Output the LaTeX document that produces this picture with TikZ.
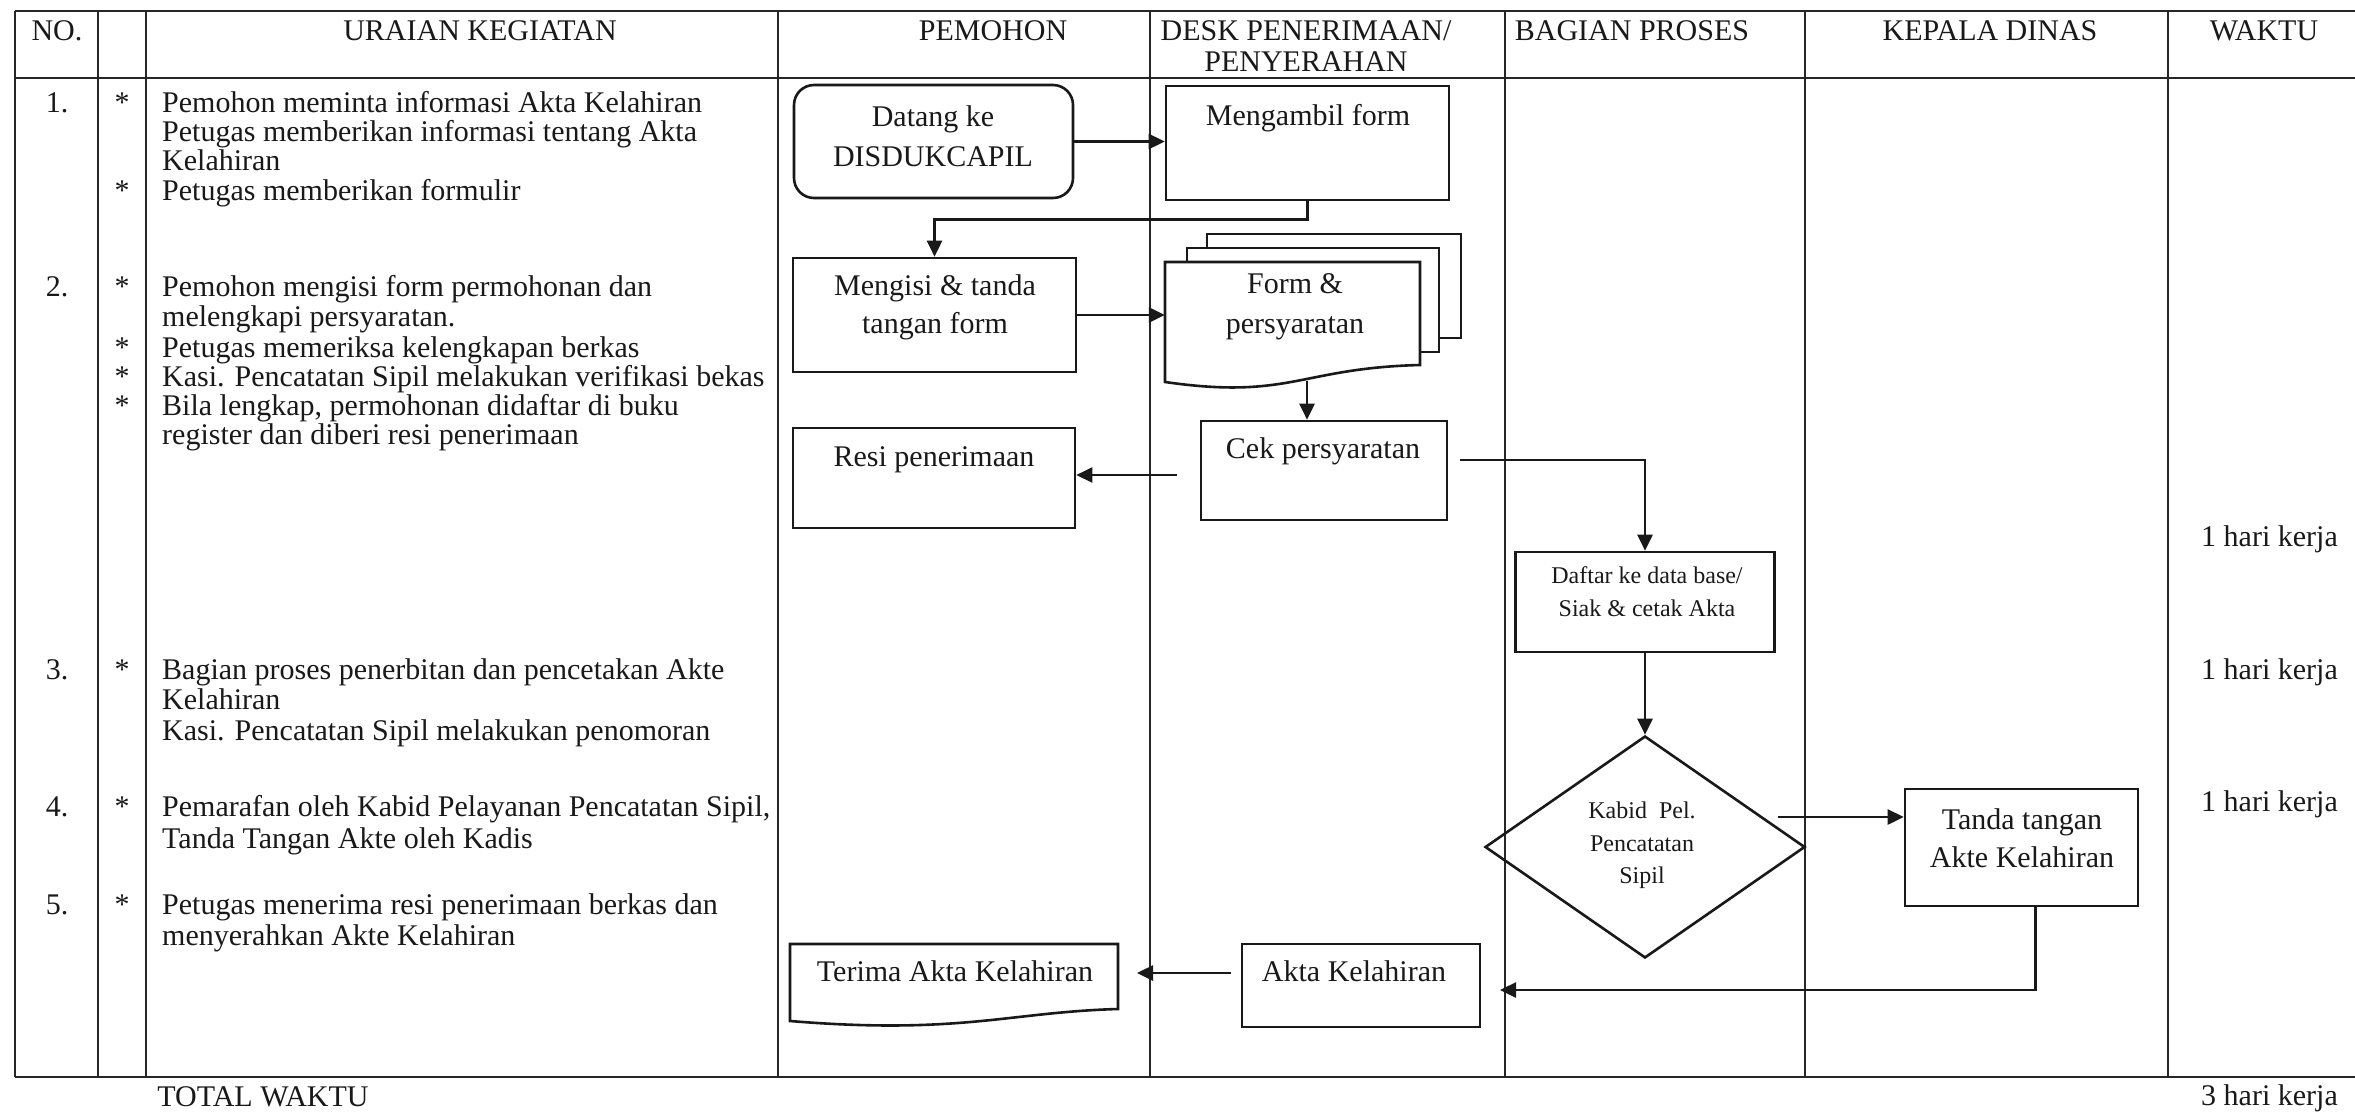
\documentclass[tikz,border=0pt]{standalone}
\usepackage{fontspec}
\setmainfont{Liberation Serif}
\usetikzlibrary{shapes.geometric,arrows.meta,calc}

\newcommand\fsz[1]{\fontsize{#1pt}{#1pt}\selectfont}

\begin{document}
\begin{tikzpicture}[x=1pt,y=-1pt,
  rule/.style={line width=2.2pt, draw=black!85},
  colline/.style={line width=1.6pt, draw=black!85},
  boxed/.style={draw=black!90, line width=2.6pt, rectangle, inner sep=0pt},
  shapeline/.style={draw=black!90, line width=2.6pt, fill=white},
  lbl/.style={font=\fsz{30}, inner sep=0pt, anchor=base, text=black!90},
  lblL/.style={lbl, anchor=base west},
  small/.style={lbl, font=\fsz{24}},
  flow/.style={line width=2.6pt, draw=black!90, -{Triangle[length=16pt,width=15pt]}},
]
% page
\fill[white] (0,0) rectangle (2355,1116);
\useasboundingbox (0,0) rectangle (2355,1116);

% table frame
\foreach \x in {15,98,146,778,1150,1505,1805,2168}
  \draw[colline] (\x,11) -- (\x,1077);
\foreach \y in {11,78,1077}
  \draw[rule] (15,\y) -- (2355,\y);

% column headings
\node[lbl] (hNo)  at (57,41)   {NO.};
\node[lbl] (hUr)  at (480,41)  {URAIAN KEGIATAN};
\node[lbl] (hPm)  at (993,41)  {PEMOHON};
\node[lbl] (hDk1) at (1306,41) {DESK PENERIMAAN/};
\node[lbl] (hDk2) at (1306,71) {PENYERAHAN};
\node[lbl] (hBg)  at (1632,41) {BAGIAN PROSES};
\node[lbl] (hKd)  at (1990,41) {KEPALA DINAS};
\node[lbl] (hWk)  at (2264,41) {WAKTU};

% step numbers
\node[lbl] (n1) at (57,112) {1.};
\node[lbl] (n2) at (57,296) {2.};
\node[lbl] (n3) at (57,679) {3.};
\node[lbl] (n4) at (57,816) {4.};
\node[lbl] (n5) at (57,914) {5.};

% bullets
\foreach \y/\k in {112/a,200/b,296/c,357/d,386/e,415/f,679/g,816/h,914/i}
  \node[lbl] (st\k) at (122,\y) {*};

% activity descriptions
\node[lblL] (r1a) at (162,112) {Pemohon meminta informasi Akta Kelahiran};
\node[lblL] (r1b) at (162,141) {Petugas memberikan informasi tentang Akta};
\node[lblL] (r1c) at (162,170) {Kelahiran};
\node[lblL] (r1d) at (162,200) {Petugas memberikan formulir};
\node[lblL] (r2a) at (162,296) {Pemohon mengisi form permohonan dan};
\node[lblL] (r2b) at (162,326) {melengkapi persyaratan.};
\node[lblL] (r2c) at (162,357) {Petugas memeriksa kelengkapan berkas};
\node[lblL] (r2d) at (162,386) {Kasi. Pencatatan Sipil melakukan verifikasi bekas};
\node[lblL] (r2e) at (162,415) {Bila lengkap, permohonan didaftar di buku};
\node[lblL] (r2f) at (162,444) {register dan diberi resi penerimaan};
\node[lblL] (r3a) at (162,679) {Bagian proses penerbitan dan pencetakan Akte};
\node[lblL] (r3b) at (162,709) {Kelahiran};
\node[lblL] (r3c) at (162,740) {Kasi. Pencatatan Sipil melakukan penomoran};
\node[lblL] (r4a) at (162,816) {Pemarafan oleh Kabid Pelayanan Pencatatan Sipil,};
\node[lblL] (r4b) at (162,848) {Tanda Tangan Akte oleh Kadis};
\node[lblL] (r5a) at (162,914) {Petugas menerima resi penerimaan berkas dan};
\node[lblL] (r5b) at (162,945) {menyerahkan Akte Kelahiran};

% durations
\node[lblL] (w1) at (2201,546)  {1 hari kerja};
\node[lblL] (w2) at (2201,679)  {1 hari kerja};
\node[lblL] (w3) at (2201,811)  {1 hari kerja};
\node[lblL] (wt) at (2201,1105) {3 hari kerja};
\node[lbl]  (tot) at (263,1106) {TOTAL WAKTU};

% ---- flow shapes ----
\node[boxed, rounded corners=20pt, minimum width=279pt, minimum height=113pt] (datang) at (933.5,141.5) {};
\node[lbl] (datangA) at (933,126) {Datang ke};
\node[lbl] (datangB) at (933,166) {DISDUKCAPIL};

\node[boxed, minimum width=283pt, minimum height=114pt] (ambil) at (1307.5,143) {};
\node[lbl] (ambilT) at (1308,125) {Mengambil form};

\node[boxed, minimum width=283pt, minimum height=114pt] (isi) at (934.5,315) {};
\node[lbl] (isiA) at (935,295) {Mengisi \& tanda};
\node[lbl] (isiB) at (935,333) {tangan form};

% stacked documents
\draw[shapeline] (1207,234) rectangle (1461,338);
\draw[shapeline] (1187,248) rectangle (1439,352);
\draw[shapeline] (1165,262) -- (1420,262) -- (1420,365)
  .. controls (1300,368) and (1290,400) .. (1165,382) -- cycle;
\node[inner sep=0pt, minimum width=255pt, minimum height=120pt] (form) at (1292.5,322) {};
\node[lbl] (formA) at (1295,293) {Form \&};
\node[lbl] (formB) at (1295,333) {persyaratan};
\coordinate (formout) at (1307,381);

\node[boxed, minimum width=246pt, minimum height=99pt] (cek) at (1324,470.5) {};
\node[lbl] (cekT) at (1323,458) {Cek persyaratan};
\coordinate (cekL) at (1177,475);
\coordinate (cekR) at (1460,460);

\node[boxed, minimum width=282pt, minimum height=100pt] (resi) at (934,478) {};
\node[lbl] (resiT) at (934,466) {Resi penerimaan};

\node[boxed, minimum width=259pt, minimum height=100pt] (daftar) at (1645,602) {};
\node[small] (daftarA) at (1647,583) {Daftar ke data base/};
\node[small] (daftarB) at (1647,616) {Siak \& cetak Akta};

\node[draw=black!90, line width=2.6pt, diamond, inner sep=0pt,
      minimum width=320pt, minimum height=222pt] (kabid) at (1645,847) {};
\node[small] (kabidA) at (1642,818) {Kabid\ \ Pel.};
\node[small] (kabidB) at (1642,851) {Pencatatan};
\node[small] (kabidC) at (1642,883) {Sipil};
\coordinate (kabidR) at (1778,817);

\node[boxed, minimum width=233pt, minimum height=117pt] (tanda) at (2021.5,847.5) {};
\node[lbl] (tandaA) at (2022,829) {Tanda tangan};
\node[lbl] (tandaB) at (2022,867) {Akte Kelahiran};
\coordinate (tandaS) at ($(tanda.south)+(14,0)$);

\node[boxed, minimum width=238pt, minimum height=83pt] (akta) at (1361,985.5) {};
\node[lbl] (aktaT) at (1354,981) {Akta Kelahiran};
\coordinate (aktaIn) at (1500,990);
\coordinate (aktaOut) at (1231,973);

\draw[shapeline] (790,944) -- (1118,944) -- (1118,1009)
  .. controls (1010,1012) and (960,1035) .. (790,1021) -- cycle;
\node[inner sep=0pt, minimum width=328pt, minimum height=81pt] (terima) at (954,984.5) {};
\node[lbl] (terimaT) at (955,981) {Terima Akta Kelahiran};
\coordinate (terimaIn) at (1137,973);

% ---- connectors ----
\draw[flow] (datang.east) -- (ambil.west |- datang.east);
\draw[flow] (ambil.south) -- ++(0,18) -| (isi.north);
\draw[flow] (isi.east) -- (isi.east -| form.west);
\draw[flow] (formout) -- (formout |- cek.north);
\draw[flow] (cekL) -- (cekL -| resi.east);
\draw[flow] (cekR) -| (daftar.north);
\draw[flow] (daftar.south) -- (kabid.north);
\draw[flow] (kabidR) -- (kabidR -| tanda.west);
\draw[flow] (tandaS) |- (aktaIn);
\draw[flow] (aktaOut) -- (terimaIn);
\end{tikzpicture}
\end{document}
